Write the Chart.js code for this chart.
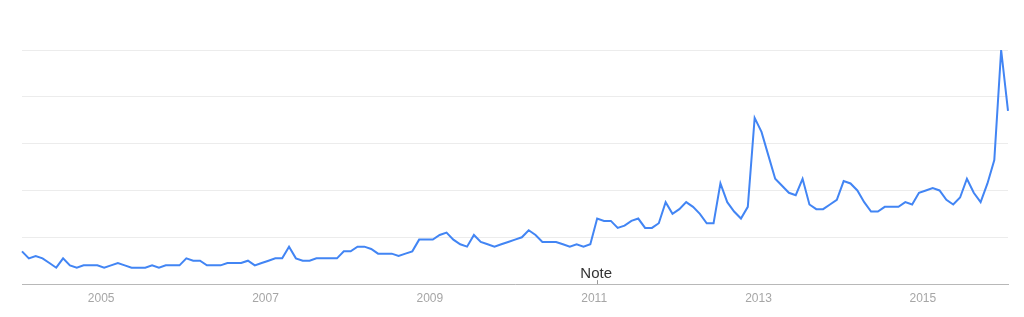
<!DOCTYPE html>
<html>
<head>
<meta charset="utf-8">
<script src="https://cdn.jsdelivr.net/npm/chart.js@4"></script>
<style>
  html, body { margin: 0; padding: 0; background: #fff; }
  #wrap { width: 1024px; height: 317px; position: relative; }
</style>
</head>
<body>
<div id="wrap"><canvas id="trendChart"></canvas></div>
<script>
// monthly interest, Jan 2004 .. Jan 2016
const startYear = 2004;
const endYear = 2016;
const interest = [
  14, 11, 12, 11, 9, 7, 11, 8, 7, 8, 8, 8,       // 2004
  7, 8, 9, 8, 7, 7, 7, 8, 7, 8, 8, 8,            // 2005
  11, 10, 10, 8, 8, 8, 9, 9, 9, 10, 8, 9,        // 2006
  10, 11, 11, 16, 11, 10, 10, 11, 11, 11, 11, 14, // 2007
  14, 16, 16, 15, 13, 13, 13, 12, 13, 14, 19, 19, // 2008
  19, 21, 22, 19, 17, 16, 21, 18, 17, 16, 17, 18, // 2009
  19, 20, 23, 21, 18, 18, 18, 17, 16, 17, 16, 17, // 2010
  28, 27, 27, 24, 25, 27, 28, 24, 24, 26, 35, 30, // 2011
  32, 35, 33, 30, 26, 26, 43, 35, 31, 28, 33, 71, // 2012
  65, 55, 45, 42, 39, 38, 45, 34, 32, 32, 34, 36, // 2013
  44, 43, 40, 35, 31, 31, 33, 33, 33, 35, 34, 39, // 2014
  40, 41, 40, 36, 34, 37, 45, 39, 35, 43, 53, 100, // 2015
  74                                              // 2016
];
const noteLabel = 'Note';
const noteMonth = '2011-01';

const months = [];
for (let y = startYear; y <= endYear; y++) {
  for (let m = 1; m <= 12; m++) {
    if (months.length < interest.length) months.push(y + '-' + String(m).padStart(2, '0'));
  }
}

const notePlugin = {
  id: 'note',
  afterDatasetsDraw(chart) {
    const { ctx, scales } = chart;
    const x = scales.x.getPixelForValue(months.indexOf(noteMonth));
    const bottom = chart.chartArea.bottom;
    ctx.save();
    ctx.strokeStyle = '#999';
    ctx.lineWidth = 1;
    ctx.beginPath();
    ctx.moveTo(Math.round(x) + 0.5, bottom - 4);
    ctx.lineTo(Math.round(x) + 0.5, bottom);
    ctx.stroke();
    ctx.fillStyle = '#333';
    ctx.font = '15px "Liberation Sans", Arial, sans-serif';
    ctx.textAlign = 'center';
    ctx.textBaseline = 'alphabetic';
    ctx.fillText(noteLabel, x - 1, bottom - 6);
    ctx.restore();
  }
};

const ctx = document.getElementById('trendChart').getContext('2d');
new Chart(ctx, {
  type: 'line',
  data: {
    labels: months,
    datasets: [{
      data: interest,
      borderColor: '#4285f4',
      borderWidth: 2,
      pointRadius: 0,
      tension: 0,
      fill: false,
      clip: 4,
    }],
  },
  options: {
    responsive: true,
    maintainAspectRatio: false,
    animation: false,
    layout: { padding: { left: 22, right: 16, top: 50, bottom: 4.5 } },
    scales: {
      x: {
        grid: { display: false, drawTicks: false },
        border: { display: true, color: '#b8b8b8', width: 1 },
        ticks: {
          autoSkip: false,
          maxRotation: 0,
          padding: 7,
          labelOffset: -3,
          color: '#a6a6a6',
          font: { family: '"Liberation Sans", Arial, sans-serif', size: 12 },
          callback: function (value) {
            const label = months[value];
            const [y, m] = label.split('-');
            return m === '01' && Number(y) % 2 === 1 ? y : '';
          },
        },
      },
      y: {
        min: 0,
        max: 100,
        ticks: { display: false, stepSize: 20 },
        grid: { color: '#ececec', drawTicks: false },
        border: { display: false },
      },
    },
    plugins: {
      legend: { display: false },
      tooltip: { enabled: false },
    },
  },
  plugins: [notePlugin],
});
</script>
</body>
</html>
